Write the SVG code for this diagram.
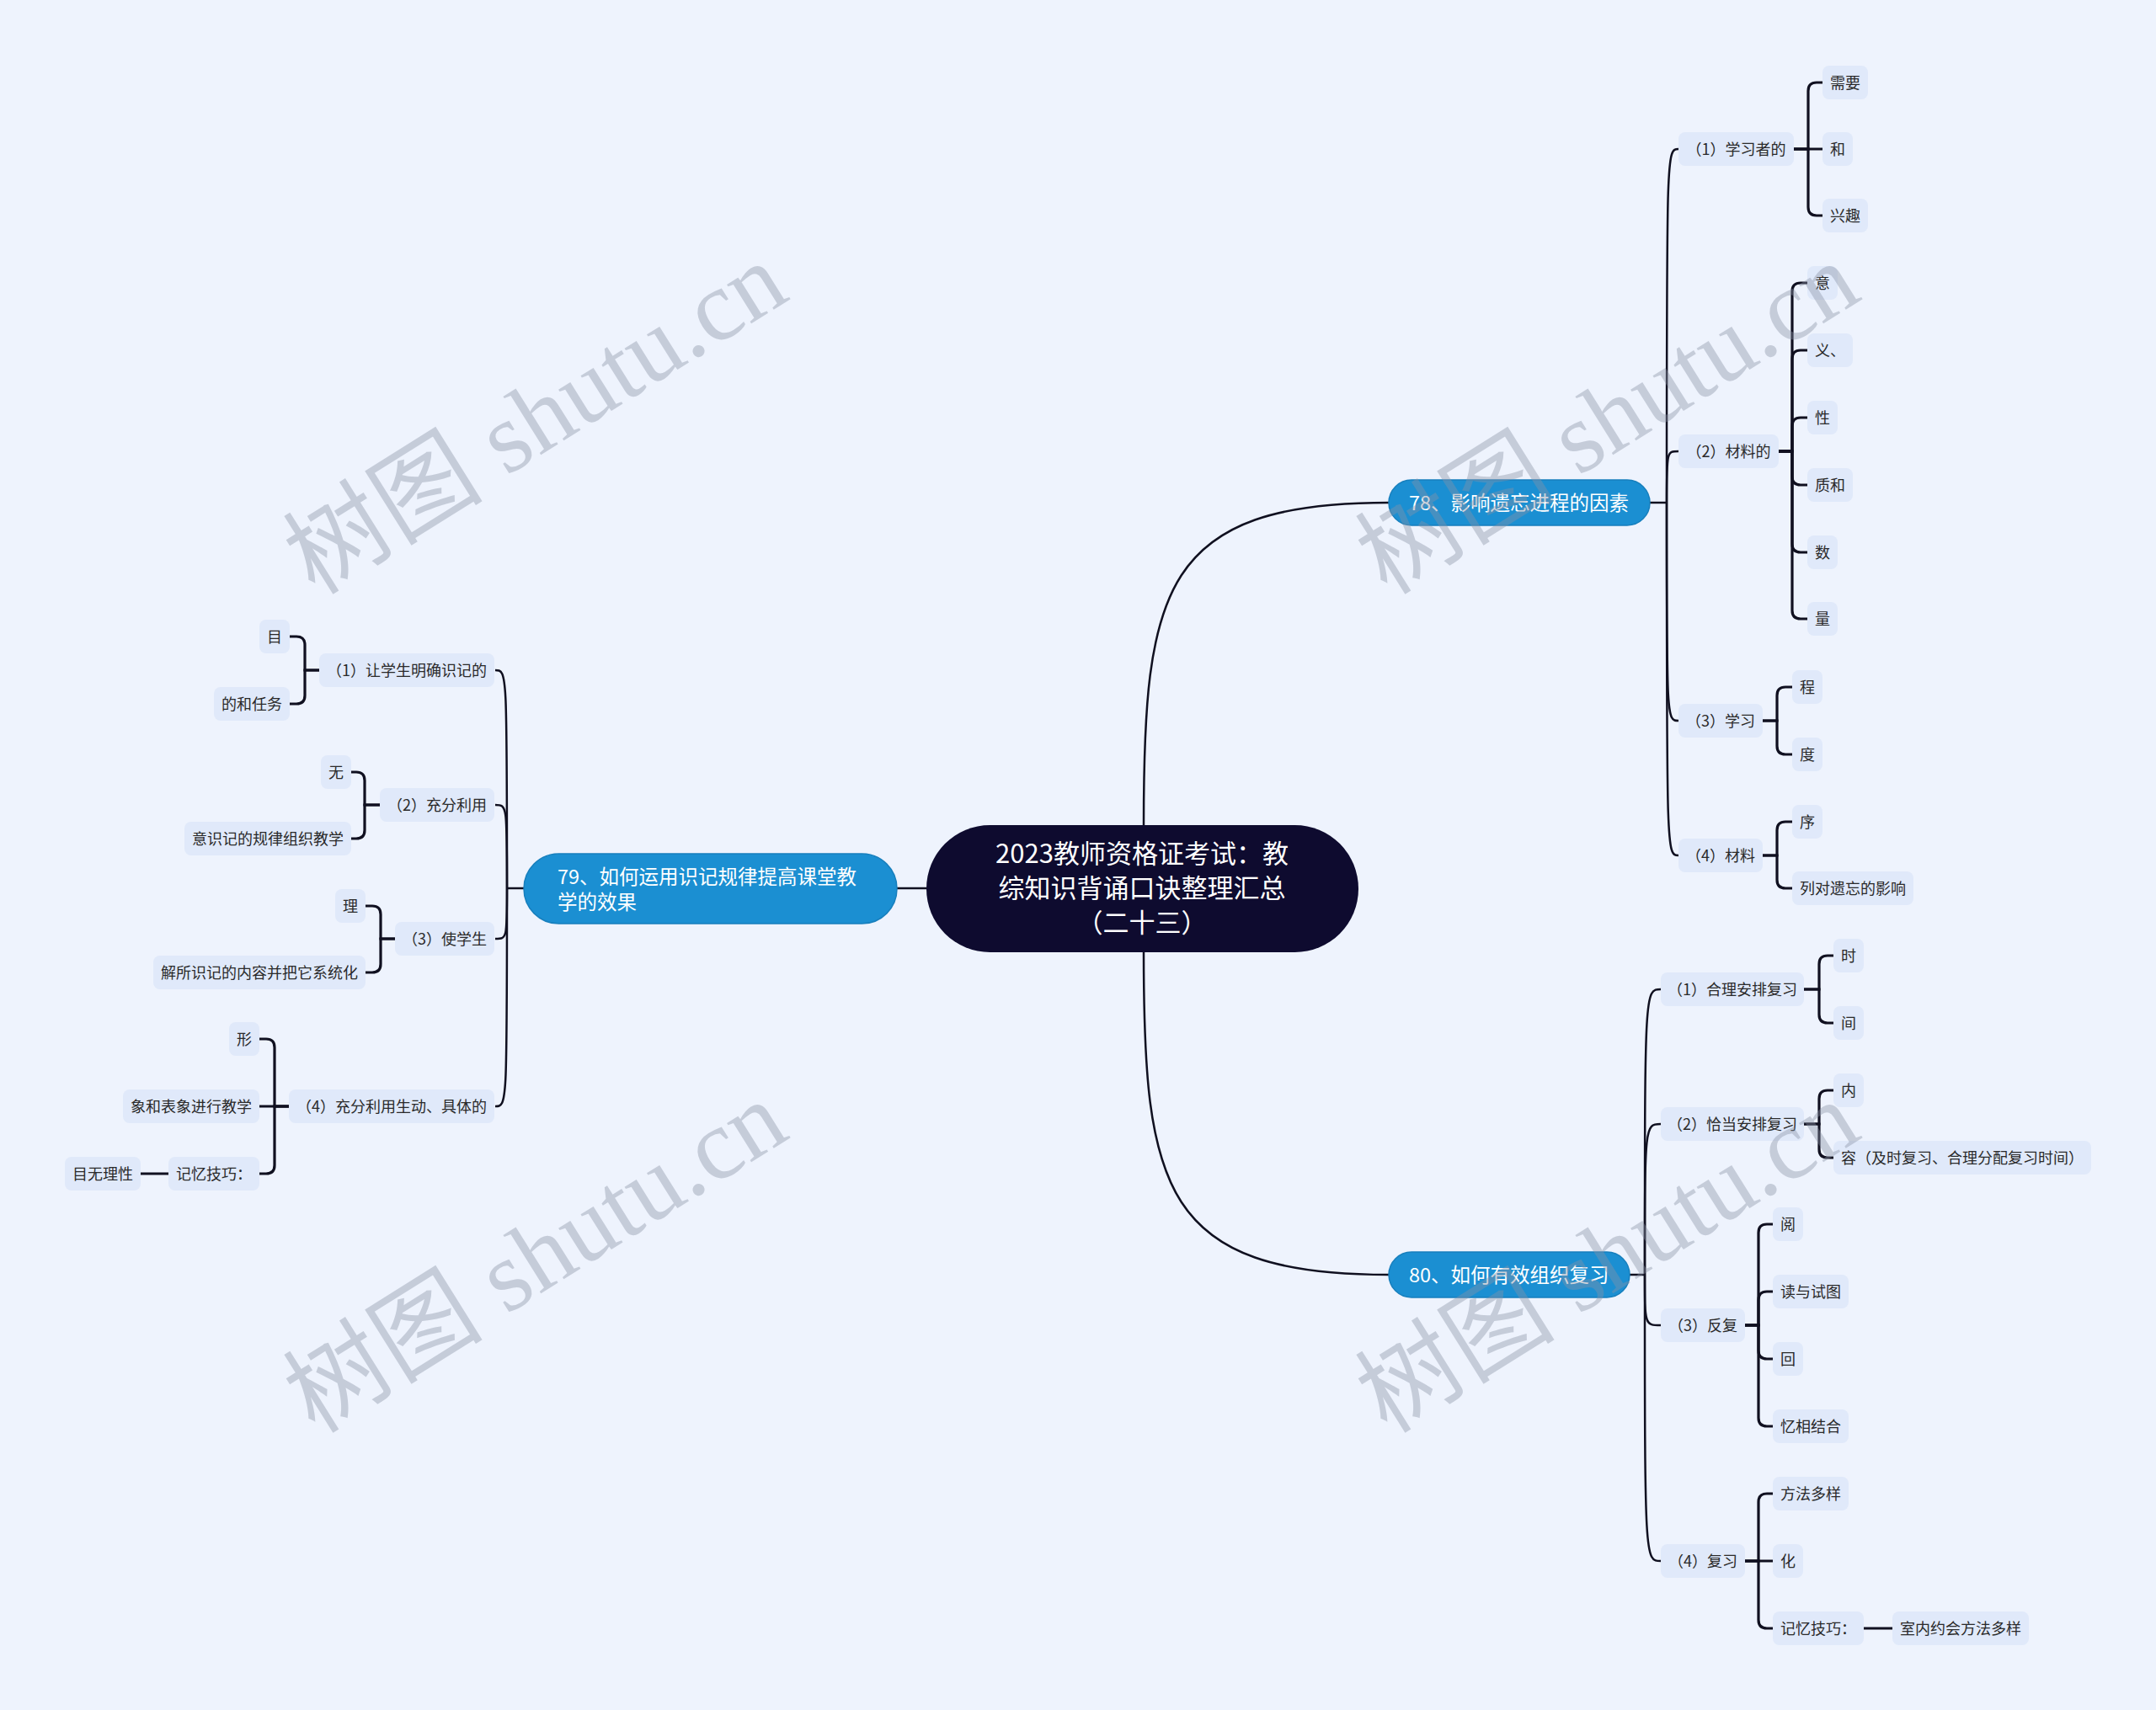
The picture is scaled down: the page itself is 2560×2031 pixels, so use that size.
<svg xmlns="http://www.w3.org/2000/svg" width="2560" height="2031" viewBox="0 0 2560 2031">
<style>
.t{font-family:"Noto Sans CJK SC","Liberation Sans",sans-serif;}
.n3 rect{fill:#e0e9fa;}
.n3 text{font-size:18px;fill:#2a2a2a;text-anchor:middle;}
.br rect{fill:#1b8fd2;stroke:#177fbd;stroke-width:1.5;}
.br text{font-size:23.5px;fill:#ffffff;}
.root rect{fill:#0e0b2f;}
.root text{font-size:31px;fill:#ffffff;text-anchor:middle;}
.c1{fill:none;stroke:#101020;stroke-width:2.5;}
.c2{fill:none;stroke:#101020;stroke-width:3.2;}
.wm{font-family:"Liberation Serif","Noto Sans CJK SC",serif;font-size:119px;fill:#8a93a6;opacity:0.4;}
</style>
<rect x="0" y="0" width="2560" height="2031" fill="#eef3fd"/>

<g id="connectors">
  <path class="c1" d="M1358 980 C1358 700 1380 597 1649 597"/>
  <path class="c1" d="M1358 1131 C1358 1411 1380 1514 1649 1514"/>
  <path class="c1" d="M1100 1055 H1065"/>
  <path class="c1" d="M1959 597 H1979"/>
  <path class="c1" d="M1979 597 C1979 177 1979 177 1993 177"/>
  <path class="c1" d="M1979 597 C1979 536 1979 536 1993 536"/>
  <path class="c1" d="M1979 597 C1979 856 1979 856 1993 856"/>
  <path class="c1" d="M1979 597 C1979 1016 1979 1016 1993 1016"/>
  <path class="c1" d="M1935 1514 H1953"/>
  <path class="c1" d="M1953 1514 C1953 1175 1953 1175 1972 1175"/>
  <path class="c1" d="M1953 1514 C1953 1335 1953 1335 1972 1335"/>
  <path class="c1" d="M1953 1514 C1953 1574 1953 1574 1972 1574"/>
  <path class="c1" d="M1953 1514 C1953 1854 1953 1854 1972 1854"/>
  <path class="c1" d="M622 1055 H602"/>
  <path class="c1" d="M602 1055 C602 796 602 796 588 796"/>
  <path class="c1" d="M602 1055 C602 956 602 956 588 956"/>
  <path class="c1" d="M602 1055 C602 1115 602 1115 588 1115"/>
  <path class="c1" d="M602 1055 C602 1314 602 1314 588 1314"/>
  <path class="c2" d="M2130 177 H2147 V108 Q2147 98 2157 98 H2164"/>
  <path class="c2" d="M2130 177 H2164"/>
  <path class="c2" d="M2130 177 H2147 V246 Q2147 256 2157 256 H2164"/>
  <path class="c2" d="M2112 536 H2128 V346 Q2128 336 2138 336 H2146"/>
  <path class="c2" d="M2112 536 H2128 V426 Q2128 416 2138 416 H2146"/>
  <path class="c2" d="M2112 536 H2128 V506 Q2128 496 2138 496 H2146"/>
  <path class="c2" d="M2112 536 H2128 V566 Q2128 576 2138 576 H2146"/>
  <path class="c2" d="M2112 536 H2128 V646 Q2128 656 2138 656 H2146"/>
  <path class="c2" d="M2112 536 H2128 V725 Q2128 735 2138 735 H2146"/>
  <path class="c2" d="M2093 856 H2110 V826 Q2110 816 2120 816 H2128"/>
  <path class="c2" d="M2093 856 H2110 V886 Q2110 896 2120 896 H2128"/>
  <path class="c2" d="M2093 1016 H2110 V986 Q2110 976 2120 976 H2128"/>
  <path class="c2" d="M2093 1016 H2110 V1045 Q2110 1055 2120 1055 H2128"/>
  <path class="c2" d="M2142 1175 H2160 V1145 Q2160 1135 2170 1135 H2177"/>
  <path class="c2" d="M2142 1175 H2160 V1205 Q2160 1215 2170 1215 H2177"/>
  <path class="c2" d="M2142 1335 H2160 V1305 Q2160 1295 2170 1295 H2177"/>
  <path class="c2" d="M2142 1335 H2160 V1365 Q2160 1375 2170 1375 H2177"/>
  <path class="c2" d="M2072 1574 H2088 V1464 Q2088 1454 2098 1454 H2105"/>
  <path class="c2" d="M2072 1574 H2088 V1544 Q2088 1534 2098 1534 H2105"/>
  <path class="c2" d="M2072 1574 H2088 V1604 Q2088 1614 2098 1614 H2105"/>
  <path class="c2" d="M2072 1574 H2088 V1684 Q2088 1694 2098 1694 H2105"/>
  <path class="c2" d="M2072 1854 H2088 V1784 Q2088 1774 2098 1774 H2105"/>
  <path class="c2" d="M2072 1854 H2105"/>
  <path class="c2" d="M2072 1854 H2088 V1924 Q2088 1934 2098 1934 H2105"/>
  <path class="c2" d="M2213 1934 H2247"/>
  <path class="c2" d="M379 796 H362 V766 Q362 756 352 756 H344"/>
  <path class="c2" d="M379 796 H362 V826 Q362 836 352 836 H344"/>
  <path class="c2" d="M451 956 H433 V927 Q433 917 423 917 H417"/>
  <path class="c2" d="M451 956 H433 V986 Q433 996 423 996 H417"/>
  <path class="c2" d="M469 1115 H452 V1086 Q452 1076 442 1076 H434"/>
  <path class="c2" d="M469 1115 H452 V1145 Q452 1155 442 1155 H434"/>
  <path class="c2" d="M343 1314 H326 V1244 Q326 1234 316 1234 H308"/>
  <path class="c2" d="M343 1314 H308"/>
  <path class="c2" d="M343 1314 H326 V1384 Q326 1394 316 1394 H308"/>
  <path class="c2" d="M200 1394 H167"/>
</g>

<g id="root" class="root t">
  <rect x="1100" y="980" width="513" height="151" rx="75.5"/>
  <text x="1356" y="1025">2023教师资格证考试：教</text>
  <text x="1356" y="1066">综知识背诵口诀整理汇总</text>
  <text x="1356" y="1107">（二十三）</text>
</g>

<g id="b78" class="br t">
  <rect x="1649" y="570" width="310" height="54" rx="27"/>
  <text x="1673" y="605.5">78、影响遗忘进程的因素</text>
</g>
<g id="b79" class="br t">
  <rect x="622" y="1014" width="443" height="83" rx="41.5"/>
  <text x="662" y="1050">79、如何运用识记规律提高课堂教</text>
  <text x="662" y="1080">学的效果</text>
</g>
<g id="b80" class="br t">
  <rect x="1649" y="1487" width="286" height="54" rx="27"/>
  <text x="1673" y="1522.5">80、如何有效组织复习</text>
</g>

<g id="n78_1" class="n3 t"><rect x="1993" y="157" width="137" height="40" rx="8"/><text x="2061.5" y="183.5">（1）学习者的</text></g>
<g id="n78_1a" class="n3 t"><rect x="2164" y="78" width="54" height="40" rx="8"/><text x="2191" y="104.5">需要</text></g>
<g id="n78_1b" class="n3 t"><rect x="2164" y="157" width="36" height="40" rx="8"/><text x="2182" y="183.5">和</text></g>
<g id="n78_1c" class="n3 t"><rect x="2164" y="236" width="54" height="40" rx="8"/><text x="2191" y="262.5">兴趣</text></g>

<g id="n78_2" class="n3 t"><rect x="1993" y="516" width="119" height="40" rx="8"/><text x="2052.5" y="542.5">（2）材料的</text></g>
<g id="n78_2a" class="n3 t"><rect x="2146" y="316" width="36" height="40" rx="8"/><text x="2164" y="342.5">意</text></g>
<g id="n78_2b" class="n3 t"><rect x="2146" y="396" width="54" height="40" rx="8"/><text x="2173" y="422.5">义、</text></g>
<g id="n78_2c" class="n3 t"><rect x="2146" y="476" width="36" height="40" rx="8"/><text x="2164" y="502.5">性</text></g>
<g id="n78_2d" class="n3 t"><rect x="2146" y="556" width="54" height="40" rx="8"/><text x="2173" y="582.5">质和</text></g>
<g id="n78_2e" class="n3 t"><rect x="2146" y="636" width="36" height="40" rx="8"/><text x="2164" y="662.5">数</text></g>
<g id="n78_2f" class="n3 t"><rect x="2146" y="715" width="36" height="40" rx="8"/><text x="2164" y="741.5">量</text></g>

<g id="n78_3" class="n3 t"><rect x="1993" y="836" width="100" height="40" rx="8"/><text x="2043" y="862.5">（3）学习</text></g>
<g id="n78_3a" class="n3 t"><rect x="2128" y="796" width="36" height="40" rx="8"/><text x="2146" y="822.5">程</text></g>
<g id="n78_3b" class="n3 t"><rect x="2128" y="876" width="36" height="40" rx="8"/><text x="2146" y="902.5">度</text></g>

<g id="n78_4" class="n3 t"><rect x="1993" y="996" width="100" height="40" rx="8"/><text x="2043" y="1022.5">（4）材料</text></g>
<g id="n78_4a" class="n3 t"><rect x="2128" y="956" width="36" height="40" rx="8"/><text x="2146" y="982.5">序</text></g>
<g id="n78_4b" class="n3 t"><rect x="2128" y="1035" width="144" height="40" rx="8"/><text x="2200" y="1061.5">列对遗忘的影响</text></g>

<g id="n80_1" class="n3 t"><rect x="1972" y="1155" width="170" height="40" rx="8"/><text x="2057" y="1181.5">（1）合理安排复习</text></g>
<g id="n80_1a" class="n3 t"><rect x="2177" y="1115" width="36" height="40" rx="8"/><text x="2195" y="1141.5">时</text></g>
<g id="n80_1b" class="n3 t"><rect x="2177" y="1195" width="36" height="40" rx="8"/><text x="2195" y="1221.5">间</text></g>

<g id="n80_2" class="n3 t"><rect x="1972" y="1315" width="170" height="40" rx="8"/><text x="2057" y="1341.5">（2）恰当安排复习</text></g>
<g id="n80_2a" class="n3 t"><rect x="2177" y="1275" width="36" height="40" rx="8"/><text x="2195" y="1301.5">内</text></g>
<g id="n80_2b" class="n3 t"><rect x="2177" y="1355" width="306" height="40" rx="8"/><text x="2330" y="1381.5">容（及时复习、合理分配复习时间）</text></g>

<g id="n80_3" class="n3 t"><rect x="1972" y="1554" width="100" height="40" rx="8"/><text x="2022" y="1580.5">（3）反复</text></g>
<g id="n80_3a" class="n3 t"><rect x="2105" y="1434" width="36" height="40" rx="8"/><text x="2123" y="1460.5">阅</text></g>
<g id="n80_3b" class="n3 t"><rect x="2105" y="1514" width="90" height="40" rx="8"/><text x="2150" y="1540.5">读与试图</text></g>
<g id="n80_3c" class="n3 t"><rect x="2105" y="1594" width="36" height="40" rx="8"/><text x="2123" y="1620.5">回</text></g>
<g id="n80_3d" class="n3 t"><rect x="2105" y="1674" width="90" height="40" rx="8"/><text x="2150" y="1700.5">忆相结合</text></g>

<g id="n80_4" class="n3 t"><rect x="1972" y="1834" width="100" height="40" rx="8"/><text x="2022" y="1860.5">（4）复习</text></g>
<g id="n80_4a" class="n3 t"><rect x="2105" y="1754" width="90" height="40" rx="8"/><text x="2150" y="1780.5">方法多样</text></g>
<g id="n80_4b" class="n3 t"><rect x="2105" y="1834" width="36" height="40" rx="8"/><text x="2123" y="1860.5">化</text></g>
<g id="n80_4c" class="n3 t"><rect x="2105" y="1914" width="108" height="40" rx="8"/><text x="2159" y="1940.5">记忆技巧：</text></g>
<g id="n80_4c1" class="n3 t"><rect x="2247" y="1914" width="162" height="40" rx="8"/><text x="2328" y="1940.5">室内约会方法多样</text></g>

<g id="n79_1" class="n3 t"><rect x="379" y="776" width="208" height="40" rx="8"/><text x="483" y="802.5">（1）让学生明确识记的</text></g>
<g id="n79_1a" class="n3 t"><rect x="308" y="736" width="36" height="40" rx="8"/><text x="326" y="762.5">目</text></g>
<g id="n79_1b" class="n3 t"><rect x="254" y="816" width="90" height="40" rx="8"/><text x="299" y="842.5">的和任务</text></g>

<g id="n79_2" class="n3 t"><rect x="451" y="936" width="136" height="40" rx="8"/><text x="519" y="962.5">（2）充分利用</text></g>
<g id="n79_2a" class="n3 t"><rect x="381" y="897" width="36" height="40" rx="8"/><text x="399" y="923.5">无</text></g>
<g id="n79_2b" class="n3 t"><rect x="219" y="976" width="198" height="40" rx="8"/><text x="318" y="1002.5">意识记的规律组织教学</text></g>

<g id="n79_3" class="n3 t"><rect x="469" y="1095" width="118" height="40" rx="8"/><text x="528" y="1121.5">（3）使学生</text></g>
<g id="n79_3a" class="n3 t"><rect x="398" y="1056" width="36" height="40" rx="8"/><text x="416" y="1082.5">理</text></g>
<g id="n79_3b" class="n3 t"><rect x="182" y="1135" width="252" height="40" rx="8"/><text x="308" y="1161.5">解所识记的内容并把它系统化</text></g>

<g id="n79_4" class="n3 t"><rect x="343" y="1294" width="244" height="40" rx="8"/><text x="465" y="1320.5">（4）充分利用生动、具体的</text></g>
<g id="n79_4a" class="n3 t"><rect x="272" y="1214" width="36" height="40" rx="8"/><text x="290" y="1240.5">形</text></g>
<g id="n79_4b" class="n3 t"><rect x="146" y="1294" width="162" height="40" rx="8"/><text x="227" y="1320.5">象和表象进行教学</text></g>
<g id="n79_4c" class="n3 t"><rect x="200" y="1374" width="108" height="40" rx="8"/><text x="254" y="1400.5">记忆技巧：</text></g>
<g id="n79_4c1" class="n3 t"><rect x="77" y="1374" width="90" height="40" rx="8"/><text x="122" y="1400.5">目无理性</text></g>

<g id="watermark">
  <text class="wm" x="374" y="708" transform="rotate(-32 374 708)">树图 shutu.cn</text>
  <text class="wm" x="1647" y="708" transform="rotate(-32 1647 708)">树图 shutu.cn</text>
  <text class="wm" x="374" y="1704" transform="rotate(-32 374 1704)">树图 shutu.cn</text>
  <text class="wm" x="1647" y="1704" transform="rotate(-32 1647 1704)">树图 shutu.cn</text>
</g>
</svg>
